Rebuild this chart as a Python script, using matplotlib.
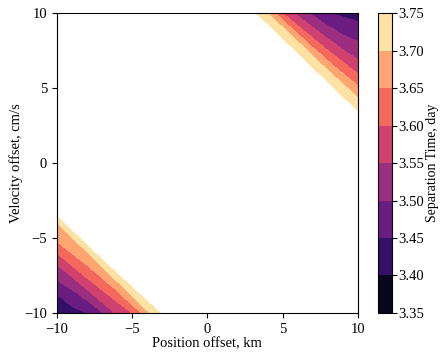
import numpy as np
import matplotlib
matplotlib.use("Agg")
from matplotlib import pyplot as plt

plt.rcParams['font.family'] = ['Liberation Serif', 'DejaVu Serif']
plt.rcParams['font.size'] = 10.5

# grid of offsets
pos = [-10, -9, -8, -7, -6, -5, -4, -3, -2, -1, 0, 1, 2, 3, 4, 5, 6, 7, 8, 9, 10]   # km
vel = [-10, -9, -8, -7, -6, -5, -4, -3, -2, -1, 0, 1, 2, 3, 4, 5, 6, 7, 8, 9, 10]   # cm/s

# separation time (day), rows = velocity offset, columns = position offset
# values above 3.75 are outside the colour range (drawn white)
sep_time = [
    [3.42, 3.435, 3.45, 3.495, 3.56, 3.60, 3.685, 3.76, 3.85, 3.9, 3.9, 3.9, 3.9, 3.9, 3.9, 3.9, 3.9, 3.9, 3.9, 3.9, 3.9],
    [3.44, 3.47, 3.508, 3.57, 3.613, 3.687, 3.77, 3.854, 3.9, 3.9, 3.9, 3.9, 3.9, 3.9, 3.9, 3.9, 3.9, 3.9, 3.9, 3.9, 3.9],
    [3.49, 3.522, 3.58, 3.626, 3.688, 3.78, 3.858, 3.9, 3.9, 3.9, 3.9, 3.9, 3.9, 3.9, 3.9, 3.9, 3.9, 3.9, 3.9, 3.9, 3.9],
    [3.535, 3.59, 3.639, 3.69, 3.79, 3.861, 3.9, 3.9, 3.9, 3.9, 3.9, 3.9, 3.9, 3.9, 3.9, 3.9, 3.9, 3.9, 3.9, 3.9, 3.9],
    [3.60, 3.652, 3.692, 3.80, 3.865, 3.9, 3.9, 3.9, 3.9, 3.9, 3.9, 3.9, 3.9, 3.9, 3.9, 3.9, 3.9, 3.9, 3.9, 3.9, 3.9],
    [3.665, 3.693, 3.81, 3.869, 3.9, 3.9, 3.9, 3.9, 3.9, 3.9, 3.9, 3.9, 3.9, 3.9, 3.9, 3.9, 3.9, 3.9, 3.9, 3.9, 3.9],
    [3.695, 3.815, 3.872, 3.9, 3.9, 3.9, 3.9, 3.9, 3.9, 3.9, 3.9, 3.9, 3.9, 3.9, 3.9, 3.9, 3.9, 3.9, 3.9, 3.9, 3.9],
    [3.82, 3.876, 3.9, 3.9, 3.9, 3.9, 3.9, 3.9, 3.9, 3.9, 3.9, 3.9, 3.9, 3.9, 3.9, 3.9, 3.9, 3.9, 3.9, 3.9, 3.9],
    [3.88, 3.9, 3.9, 3.9, 3.9, 3.9, 3.9, 3.9, 3.9, 3.9, 3.9, 3.9, 3.9, 3.9, 3.9, 3.9, 3.9, 3.9, 3.9, 3.9, 3.9],
    [3.9, 3.9, 3.9, 3.9, 3.9, 3.9, 3.9, 3.9, 3.9, 3.9, 3.9, 3.9, 3.9, 3.9, 3.9, 3.9, 3.9, 3.9, 3.9, 3.9, 3.9],
    [3.9, 3.9, 3.9, 3.9, 3.9, 3.9, 3.9, 3.9, 3.9, 3.9, 3.9, 3.9, 3.9, 3.9, 3.9, 3.9, 3.9, 3.9, 3.9, 3.9, 3.9],
    [3.9, 3.9, 3.9, 3.9, 3.9, 3.9, 3.9, 3.9, 3.9, 3.9, 3.9, 3.9, 3.9, 3.9, 3.9, 3.9, 3.9, 3.9, 3.9, 3.9, 3.9],
    [3.9, 3.9, 3.9, 3.9, 3.9, 3.9, 3.9, 3.9, 3.9, 3.9, 3.9, 3.9, 3.9, 3.9, 3.9, 3.9, 3.9, 3.9, 3.9, 3.9, 3.85],
    [3.9, 3.9, 3.9, 3.9, 3.9, 3.9, 3.9, 3.9, 3.9, 3.9, 3.9, 3.9, 3.9, 3.9, 3.9, 3.9, 3.9, 3.9, 3.9, 3.85, 3.78],
    [3.9, 3.9, 3.9, 3.9, 3.9, 3.9, 3.9, 3.9, 3.9, 3.9, 3.9, 3.9, 3.9, 3.9, 3.9, 3.9, 3.9, 3.9, 3.85, 3.779, 3.72],
    [3.9, 3.9, 3.9, 3.9, 3.9, 3.9, 3.9, 3.9, 3.9, 3.9, 3.9, 3.9, 3.9, 3.9, 3.9, 3.9, 3.9, 3.85, 3.777, 3.717, 3.66],
    [3.9, 3.9, 3.9, 3.9, 3.9, 3.9, 3.9, 3.9, 3.9, 3.9, 3.9, 3.9, 3.9, 3.9, 3.9, 3.9, 3.85, 3.776, 3.714, 3.648, 3.596],
    [3.9, 3.9, 3.9, 3.9, 3.9, 3.9, 3.9, 3.9, 3.9, 3.9, 3.9, 3.9, 3.9, 3.9, 3.9, 3.85, 3.774, 3.711, 3.636, 3.581, 3.545],
    [3.9, 3.9, 3.9, 3.9, 3.9, 3.9, 3.9, 3.9, 3.9, 3.9, 3.9, 3.9, 3.9, 3.9, 3.85, 3.773, 3.709, 3.624, 3.566, 3.527, 3.504],
    [3.9, 3.9, 3.9, 3.9, 3.9, 3.9, 3.9, 3.9, 3.9, 3.9, 3.9, 3.9, 3.9, 3.85, 3.771, 3.705, 3.612, 3.552, 3.508, 3.478, 3.465],
    [3.9, 3.9, 3.9, 3.9, 3.9, 3.9, 3.9, 3.9, 3.9, 3.9, 3.9, 3.9, 3.85, 3.77, 3.702, 3.60, 3.537, 3.49, 3.452, 3.44, 3.43],
]

levels = [3.35, 3.40, 3.45, 3.50, 3.55, 3.60, 3.65, 3.70, 3.75]

fig = plt.figure(figsize=(4.44, 3.56), dpi=100)
ax = fig.add_axes([0.128, 0.121, 0.678, 0.842])
cax = fig.add_axes([0.851, 0.121, 0.032, 0.842])

X, Y = np.meshgrid(pos, vel)
cs = ax.contourf(X, Y, np.array(sep_time), levels=levels, cmap='magma')

ax.set_xlim(-10, 10)
ax.set_ylim(-10, 10)
ax.set_xticks([-10, -5, 0, 5, 10])
ax.set_yticks([-10, -5, 0, 5, 10])
ax.set_xlabel('Position offset, km', labelpad=1)
ax.set_ylabel('Velocity offset, cm/s', labelpad=1)

cb = fig.colorbar(cs, cax=cax, ticks=levels)
cb.ax.set_yticklabels(['%.2f' % l for l in levels])
cb.ax.tick_params(pad=1)
cb.set_label('Separation Time, day', labelpad=1, fontsize=10)

plt.savefig('out.png')
plt.close()
